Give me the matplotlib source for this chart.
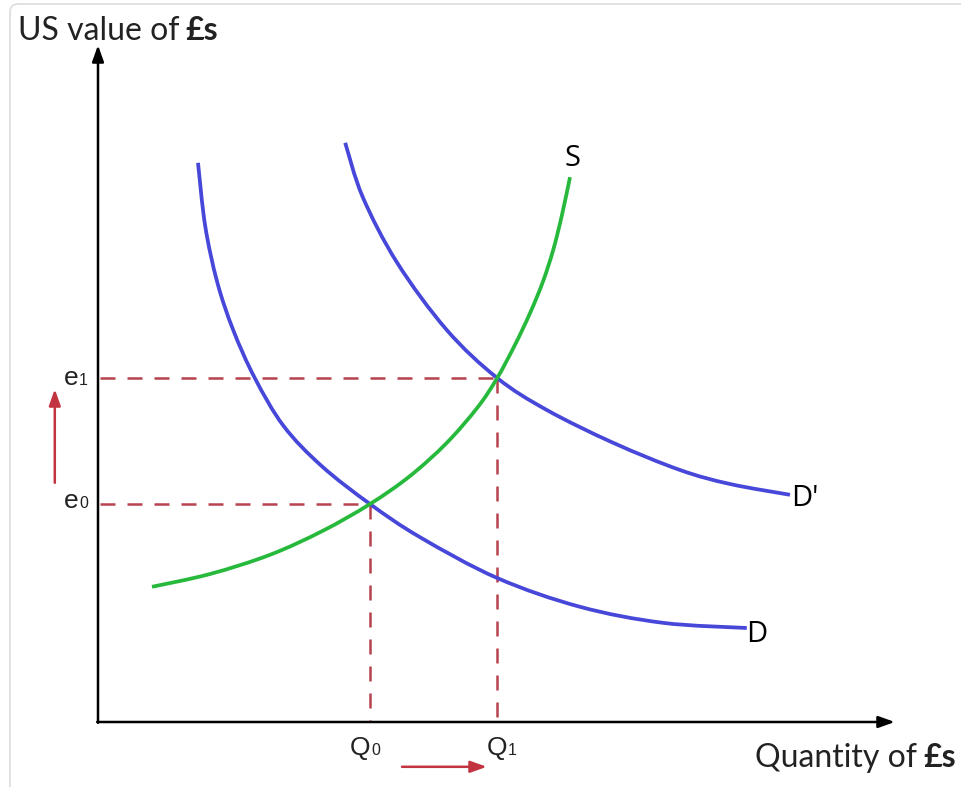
import matplotlib
matplotlib.use("Agg")
import matplotlib.pyplot as plt
import numpy as np
from matplotlib.path import Path
from matplotlib.patches import PathPatch, FancyBboxPatch

# Curve points (quantity of £s, US value of £s) in chart units
d_q = [12.5, 13.4, 14.9, 16.9, 19.6, 23.2, 27.95, 34.0, 40.25, 49.9, 60.25, 70.6, 81.1]
d_v = [69.9, 62.0, 55.0, 49.0, 43.0, 37.0, 32.0, 27.25, 23.1, 18.0, 14.4, 12.4, 11.75]

d2_q = [30.9, 33.1, 37.4, 43.6, 49.9, 56.1, 64.4, 72.75, 79.0, 86.5]
d2_v = [72.4, 65.6, 57.4, 49.0, 43.0, 39.0, 34.9, 31.5, 29.75, 28.4]

s_q = [6.75, 14.0, 21.5, 28.1, 34.0, 39.0, 43.6, 47.5, 49.9, 52.1, 54.0, 55.6, 56.9, 58.0, 59.0]
s_v = [16.9, 18.5, 20.9, 23.9, 27.25, 30.75, 34.9, 39.4, 43.0, 47.1, 51.1, 55.0, 59.0, 63.4, 68.1]

# Equilibria
q0, e0 = 34.0, 27.25
q1, e1 = 49.9, 43.0

x_axis_end = 99.6
y_axis_end = 84.6

BLUE = "#4747d9"
GREEN = "#27b93b"
DASH = "#b8434f"
RED = "#c23440"
TEXT = "#222222"

W, H = 961, 787
fig = plt.figure(figsize=(W / 100, H / 100), dpi=100)
ax = fig.add_axes([0, 0, 1, 1])
scale = 8.0
ox, oy = 98, 722
ax.set_xlim(-ox / scale, (W - ox) / scale)
ax.set_ylim(-(H - oy) / scale, oy / scale)
ax.axis("off")
renderer = fig.canvas.get_renderer()


def smooth_path(xs, ys):
    """Catmull-Rom curve through the given points as cubic Bezier segments."""
    pts = np.column_stack([xs, ys]).astype(float)
    verts = [pts[0]]
    codes = [Path.MOVETO]
    n = len(pts)
    for i in range(n - 1):
        p0 = pts[i - 1] if i > 0 else pts[i]
        p1 = pts[i]
        p2 = pts[i + 1]
        p3 = pts[i + 2] if i + 2 < n else pts[i + 1]
        c1 = p1 + (p2 - p0) / 6.0
        c2 = p2 - (p3 - p1) / 6.0
        verts += [c1, c2, p2]
        codes += [Path.CURVE4] * 3
    return Path(verts, codes)


# Card border
card = FancyBboxPatch((10, -40), W + 40, H + 36, boxstyle="round,pad=0,rounding_size=8",
                      transform=None, fill=False, edgecolor="#dcdcdc", lw=1.2)
fig.patches.append(card)

# Dashed guide lines
dash_kw = dict(color=DASH, lw=1.8, dashes=(6.0, 4.8), zorder=2)
ax.plot([0.3, q1], [e1, e1], **dash_kw)
ax.plot([q1, q1], [e1, 0], **dash_kw)
ax.plot([0.3, q0], [e0, e0], **dash_kw)
ax.plot([q0, q0], [e0, 0], **dash_kw)

# Curves
for xs, ys, col in [(d_q, d_v, BLUE), (d2_q, d2_v, BLUE), (s_q, s_v, GREEN)]:
    ax.add_patch(PathPatch(smooth_path(xs, ys), facecolor="none", edgecolor=col,
                           lw=2.7, capstyle="butt", zorder=3))

# Axes with arrowheads
arrow_kw = dict(arrowstyle="-|>,head_length=0.7,head_width=0.25", color="black",
                lw=1.8, shrinkA=0, shrinkB=0, mutation_scale=14)
ax.annotate("", xy=(x_axis_end, 0), xytext=(-0.1, 0), arrowprops=arrow_kw, zorder=4)
ax.annotate("", xy=(0, y_axis_end), xytext=(0, -0.1), arrowprops=arrow_kw, zorder=4)

# Shift arrows
red_kw = dict(arrowstyle="-|>,head_length=0.7,head_width=0.25", color=RED,
              lw=1.8, shrinkA=0, shrinkB=0, mutation_scale=14)
ax.annotate("", xy=(-5.4, 41.6), xytext=(-5.4, 29.9), arrowprops=red_kw)
ax.annotate("", xy=(48.6, -5.6), xytext=(38.0, -5.6), arrowprops=red_kw)

# Axis titles with bold currency part
FONT = "Lato"
def axis_title(x_px, base_px, plain, bold):
    t = fig.text(x_px / W, 1 - base_px / H, plain, fontsize=23, family=FONT,
                 color=TEXT, va="baseline", ha="left")
    bb = t.get_window_extent(renderer)
    fig.text((bb.x1 + 6) / W, 1 - base_px / H, bold, fontsize=23, family=FONT,
             fontweight="bold", color=TEXT, va="baseline", ha="left")

axis_title(18, 40, "US value of", "£s")
axis_title(755, 767, "Quantity of", "£s")

# Curve labels
lab_kw = dict(fontsize=21, family="Open Sans", color="black", va="center", ha="left")
ax.text(58.3, 70.5, "S", **lab_kw)
ax.text(86.6, 28.0, "D'", **lab_kw)
ax.text(81.0, 11.0, "D", **lab_kw)

# Price / quantity labels with subscripts
LBL = "Liberation Sans"
def sub_label(x_px, base_px, main, sub):
    t = fig.text(x_px / W, 1 - base_px / H, main, fontsize=19, family=LBL, color=TEXT,
                 ha="left", va="baseline")
    bb = t.get_window_extent(renderer)
    fig.text((bb.x1 + 0.5) / W, 1 - base_px / H, sub, fontsize=11.5, family=LBL,
             color=TEXT, ha="left", va="baseline")

sub_label(64, 385, "e", "1")
sub_label(64, 508, "e", "0")
sub_label(350, 755, "Q", "0")
sub_label(487, 755, "Q", "1")

fig.savefig("out.png", dpi=100, facecolor="white")
